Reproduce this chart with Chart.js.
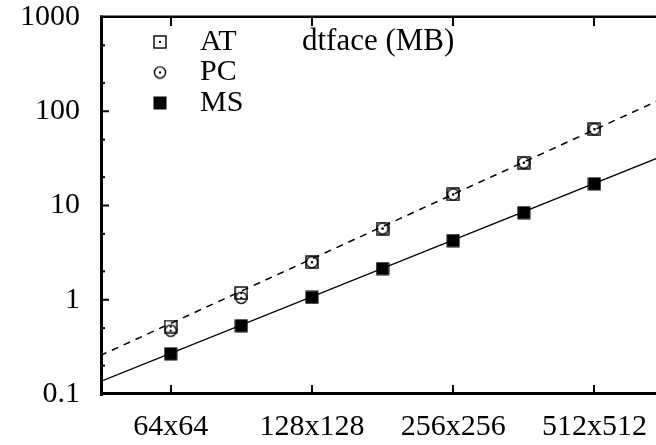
<!DOCTYPE html>
<html><head><meta charset="utf-8">
<script src="https://cdn.jsdelivr.net/npm/chart.js@4/dist/chart.umd.min.js"></script>
<style>html,body{margin:0;padding:0;background:#fff;overflow:hidden}#wrap{position:relative;width:656px;height:445px;overflow:hidden}</style>
</head><body><div id="wrap"><canvas id="c" width="662" height="445"></canvas></div>
<script>
// x positions are log2 of the image side (6 = 64x64 ... 9 = 512x512)
const sizeTicks = [6, 7, 8, 9];
const sizeLabels = ['64x64', '128x128', '256x256', '512x512'];
const sizes = [6, 6.5, 7, 7.5, 8, 8.5, 9];
const atValues = [0.52, 1.18, 2.5, 5.7, 13.1, 28.5, 64.5];
const pcValues = [0.47, 1.05, 2.5, 5.7, 13.1, 28.5, 64.5];
const msValues = [0.267, 0.53, 1.06, 2.14, 4.24, 8.4, 17.0];
const fitX = [5.5, 9.5];
const atFit = [0.255, 140];
const msFit = [0.135, 34.3];
const yMajor = [0.1, 1, 10, 100, 1000];
const yMinorMult = [2, 5];
const titleText = 'dtface (MB)';
const FONT = '"Liberation Serif", "Times New Roman", serif';

function mk(w, draw) {
  const c = document.createElement('canvas');
  c.width = w; c.height = w;
  const g = c.getContext('2d');
  draw(g, w);
  return c;
}
const sqImg = mk(14, (g, w) => {
  g.strokeStyle = '#000'; g.lineWidth = 1.4;
  g.strokeRect(1, 1, w - 2, w - 2);
  g.fillStyle = '#000'; g.fillRect(w / 2 - 1, w / 2 - 1, 2, 2);
});
const ciImg = mk(14, (g, w) => {
  g.strokeStyle = '#000'; g.lineWidth = 1.4;
  g.beginPath(); g.arc(w / 2, w / 2, 5.6, 0, Math.PI * 2); g.stroke();
  g.fillStyle = '#000'; g.fillRect(w / 2 - 1, w / 2 - 1, 2, 2);
});
const fsImg = mk(14, (g, w) => {
  g.fillStyle = '#000'; g.fillRect(0.5, 0.5, w - 1, w - 1);
});

const pts = vals => sizes.map((x, i) => ({ x: x, y: vals[i] }));
const fitPts = vals => fitX.map((x, i) => ({ x: x, y: vals[i] }));

const framePlugin = {
  id: 'frame',
  afterDraw(chart) {
    const { ctx, chartArea: a, scales } = chart;
    const xs = scales.x, ys = scales.y;
    ctx.save();
    ctx.fillStyle = '#000';
    // borders
    ctx.fillRect(a.left, a.top - 1.5, a.right - a.left, 2.5);
    ctx.fillRect(a.left, a.bottom - 2, a.right - a.left, 3);
    ctx.fillRect(a.left, a.top - 1.5, 3, a.bottom - a.top + 3.5);
    ctx.strokeStyle = '#000';
    ctx.lineWidth = 2;
    // x ticks (bottom and top, inward)
    sizeTicks.forEach(v => {
      const px = Math.round(xs.getPixelForValue(v));
      ctx.beginPath();
      ctx.moveTo(px, a.bottom); ctx.lineTo(px, a.bottom - 9);
      ctx.moveTo(px, a.top); ctx.lineTo(px, a.top + 9);
      ctx.stroke();
    });
    // y ticks (left, inward)
    yMajor.forEach((v, i) => {
      const py = ys.getPixelForValue(v);
      ctx.beginPath(); ctx.moveTo(a.left, py); ctx.lineTo(a.left + 9, py); ctx.stroke();
      if (i < yMajor.length - 1) {
        yMinorMult.forEach(m => {
          const q = ys.getPixelForValue(v * m);
          ctx.beginPath(); ctx.moveTo(a.left, q); ctx.lineTo(a.left + 5, q); ctx.stroke();
        });
      }
    });
    // legend
    ctx.font = '30px ' + FONT;
    ctx.textBaseline = 'middle';
    ctx.textAlign = 'left';
    const rows = [0, 1, 2].map(i => chart.data.datasets[i]);
    rows.forEach((ds, i) => {
      const y = a.top + 24 + i * 30.5;
      const img = ds.pointStyle;
      ctx.drawImage(img, a.left + 60 - img.width / 2, y - img.height / 2 + 1);
      ctx.fillText(ds.label, a.left + 100, y + 1);
    });
    ctx.font = '31px ' + FONT;
    ctx.fillText(titleText, a.left + 202, a.top + 25);
    ctx.restore();
  }
};

new Chart(document.getElementById('c'), {
  type: 'scatter',
  data: {
    datasets: [
      { label: 'AT', data: pts(atValues), pointStyle: sqImg, showLine: false, borderColor: '#000', backgroundColor: '#000' },
      { label: 'PC', data: pts(pcValues), pointStyle: ciImg, showLine: false, borderColor: '#000', backgroundColor: '#000' },
      { label: 'MS', data: pts(msValues), pointStyle: fsImg, showLine: false, borderColor: '#000', backgroundColor: '#000' },
      { label: 'AT fit', data: fitPts(atFit), showLine: true, pointRadius: 0, borderColor: '#000', borderWidth: 1.5, borderDash: [7, 6] },
      { label: 'MS fit', data: fitPts(msFit), showLine: true, pointRadius: 0, borderColor: '#000', borderWidth: 1.4 }
    ]
  },
  options: {
    responsive: false,
    animation: false,
    events: [],
    layout: { padding: { top: 17, left: 0, right: 0, bottom: 0 } },
    plugins: { legend: { display: false }, tooltip: { enabled: false } },
    scales: {
      x: {
        type: 'linear',
        min: 5.5,
        max: 5.5 + 556 / 141,
        grid: { display: false, drawTicks: false },
        border: { display: false },
        afterBuildTicks: s => { s.ticks = sizeTicks.map(v => ({ value: v })); },
        afterFit: s => { s.height = 51; s.paddingLeft = 0; s.paddingRight = 0; },
        ticks: {
          color: '#000',
          padding: 3,
          maxRotation: 0,
          font: { family: FONT, size: 30, lineHeight: 2 },
          callback: v => sizeLabels[sizeTicks.indexOf(v)]
        }
      },
      y: {
        type: 'logarithmic',
        min: 0.1,
        max: 1000,
        grid: { display: false, drawTicks: false },
        border: { display: false },
        afterBuildTicks: s => { s.ticks = yMajor.map(v => ({ value: v })); },
        afterFit: s => { s.width = 100; s.paddingTop = 0; s.paddingBottom = 0; },
        ticks: {
          color: '#000',
          padding: 20,
          font: { family: FONT, size: 30, lineHeight: 1 },
          callback: v => String(v)
        }
      }
    }
  },
  plugins: [framePlugin]
});
</script>
</body></html>
